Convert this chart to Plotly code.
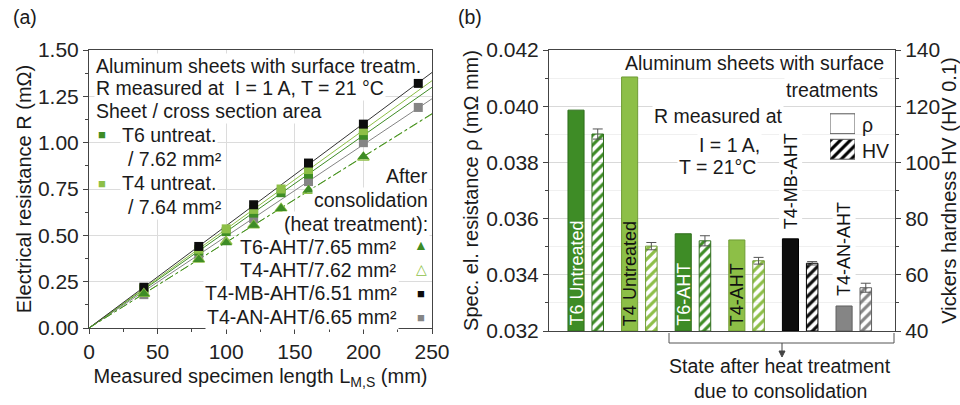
import plotly.graph_objects as go
import numpy as np

# ---------------- data (panel a) ----------------
len_untreated = [40, 80, 100, 120, 140, 160, 200]
r_t6_untreated = [0.21, 0.415, 0.52, 0.62, 0.73, 0.83, 1.04]
r_t4_untreated = [0.215, 0.425, 0.535, 0.64, 0.75, 0.855, 1.065]
len_aht = [40, 80, 100, 120, 140, 160, 200]
r_t6_aht = [0.185, 0.37, 0.46, 0.555, 0.645, 0.745, 0.925]
r_t4_aht = [0.185, 0.37, 0.465, 0.555, 0.645, 0.74, 0.92]
len_mb_an = [40, 80, 120, 160, 200, 240]
r_t4_mb_aht = [0.22, 0.44, 0.665, 0.89, 1.10, 1.32]
r_t4_an_aht = [0.18, 0.38, 0.59, 0.79, 1.00, 1.19]
fit_x = [0, 250]

# ---------------- data (panel b) ----------------
states = ["T6 Untreated", "T4 Untreated", "T6-AHT", "T4-AHT", "T4-MB-AHT", "T4-AN-AHT"]
rho = [0.03986, 0.04104, 0.03546, 0.03524, 0.03528, 0.03289]
hv = [110.1, 70.2, 72.1, 65.0, 64.1, 55.4]
hv_err = [1.8, 1.3, 1.8, 1.2, 0.6, 1.6]

DG = "#3e8c26"
LG = "#8dbf47"
BK = "#0d0d0d"
GR = "#858585"
FONT = "Liberation Sans, Arial, sans-serif"
TXT = 19.5

W, H = 960, 405
def px(x):
    return x / W
def py(y):
    return 1 - y / H

fig = go.Figure()

# ---- panel (a) traces ----
def fit(xs, ys):
    xs = np.array(xs, float); ys = np.array(ys, float)
    k = (xs * ys).sum() / (xs * xs).sum()
    return [k * v for v in fit_x]

series = [
    (len_mb_an, r_t4_an_aht, GR, "square", "solid", GR),
    (len_untreated, r_t6_untreated, DG, "square", "solid", DG),
    (len_untreated, r_t4_untreated, LG, "square", "solid", LG),
    (len_mb_an, r_t4_mb_aht, BK, "square", "solid", "#333333"),
    (len_aht, r_t4_aht, LG, "triangle-up-open", "dashdot", LG),
    (len_aht, r_t6_aht, DG, "triangle-up", "dashdot", DG),
]
for xs, ys, col, sym, dash, lcol in series:
    fig.add_trace(go.Scatter(x=fit_x, y=fit(xs, ys), mode="lines",
                             line=dict(color=lcol, width=1, dash=dash),
                             xaxis="x", yaxis="y", showlegend=False, hoverinfo="skip"))
for xs, ys, col, sym, dash, lcol in series:
    fig.add_trace(go.Scatter(x=xs, y=ys, mode="markers",
                             marker=dict(symbol=sym, size=10 if "triangle" in sym else 9,
                                         color=col, line=dict(width=1.5 if "open" in sym else 0, color=col)),
                             xaxis="x", yaxis="y", showlegend=False))

# ---- panel (b) traces ----
xpos = list(range(len(states)))
hv_off = 0.405
rho_col = [DG, LG, DG, LG, BK, GR]
rho_line = ["#2f6e1c", "#6f9c35", "#2f6e1c", "#6f9c35", "#000000", "#606060"]
hv_bg = [DG, LG, DG, LG, BK, GR]
hv_fg = ["white", "black", "white", "black", "white", "white"]

fig.add_trace(go.Bar(x=xpos, y=[r - 0.032 for r in rho], base=0.032, width=0.30,
                     marker=dict(color=rho_col, line=dict(color=rho_line, width=1)),
                     xaxis="x2", yaxis="y2", showlegend=False))
fig.add_trace(go.Bar(x=[p + hv_off for p in xpos], y=[h - 40 for h in hv], base=40, width=0.215,
                     marker=dict(color=hv_bg, line=dict(color=rho_line, width=1),
                                 pattern=dict(shape="/", fillmode="replace", bgcolor=hv_bg,
                                              fgcolor=hv_fg, size=7, solidity=0.45)),
                     error_y=dict(type="data", array=hv_err, color="#555555", thickness=1, width=5),
                     xaxis="x2", yaxis="y3", showlegend=False))

# legend swatches (rho / HV)
fig.add_trace(go.Bar(x=[1], y=[1], width=0.78, orientation="h",
                     marker=dict(color="white", line=dict(color="#555555", width=1)),
                     xaxis="x4", yaxis="y4", showlegend=False, hoverinfo="skip"))
fig.add_trace(go.Bar(x=[1], y=[0], width=0.78, orientation="h",
                     marker=dict(color="white", line=dict(color="#555555", width=1),
                                 pattern=dict(shape="/", fillmode="replace", bgcolor="white",
                                              fgcolor="black", size=7, solidity=0.45)),
                     xaxis="x4", yaxis="y4", showlegend=False, hoverinfo="skip"))

axis_common = dict(showline=True, linecolor="#444444", linewidth=1, mirror=True,
                   ticks="outside", ticklen=5, tickcolor="#444444", automargin=False,
                   tickfont=dict(size=21, color="#222222", family=FONT), zeroline=False)

fig.update_layout(
    width=W, height=H, margin=dict(l=0, r=0, t=0, b=0, pad=0),
    paper_bgcolor="white", plot_bgcolor="white",
    font=dict(family=FONT, size=TXT, color="#1a1a1a"),
    barmode="overlay",
    xaxis=dict(domain=[px(89), px(432)], range=[0, 250], dtick=50, anchor="y",
               showgrid=True, gridcolor="#dcdcdc", gridwidth=1,
               minor=dict(dtick=25, ticks="outside", ticklen=3, tickcolor="#444444"),
               title=dict(text="Measured specimen length L<sub>M,S</sub> (mm)", font=dict(size=20), standoff=6),
               **axis_common),
    yaxis=dict(domain=[py(328), py(50)], range=[0, 1.5], dtick=0.25, tickformat=".2f", anchor="x",
               showgrid=True, gridcolor="#dcdcdc", gridwidth=1,
               minor=dict(dtick=0.125, ticks="outside", ticklen=3, tickcolor="#444444"),
               title=dict(text="Electrical resistance R (mΩ)", font=dict(size=20), standoff=0),
               **axis_common),
    xaxis2=dict(domain=[px(549), px(895)], range=[-0.504, 5.95], anchor="y2", automargin=False,
                showline=True, linecolor="#444444", linewidth=1, mirror=True,
                showticklabels=False, ticks="", showgrid=False, zeroline=False),
    yaxis2=dict(domain=[py(331), py(50)], range=[0.032, 0.042], dtick=0.002, tickformat=".3f",
                anchor="x2", showgrid=True, gridcolor="#d9d9d9", automargin=False,
                minor=dict(dtick=0.001, ticks="outside", ticklen=3, tickcolor="#444444",
                           showgrid=True, gridcolor="#f0f0f0"),
                title=dict(text="Spec. el. resistance ρ (mΩ mm)", font=dict(size=20), standoff=2),
                showline=True, linecolor="#444444", linewidth=1, ticks="outside", ticklen=5,
                tickcolor="#444444", tickfont=dict(size=21, color="#222222", family=FONT), zeroline=False),
    yaxis3=dict(range=[40, 140], dtick=20, overlaying="y2", side="right", anchor="x2",
                showgrid=False, showline=True, linecolor="#444444", linewidth=1, automargin=False,
                ticks="outside", ticklen=5, tickcolor="#444444",
                minor=dict(dtick=10, ticks="outside", ticklen=3, tickcolor="#444444"),
                tickfont=dict(size=21, color="#222222", family=FONT), zeroline=False,
                title=dict(text="Vickers hardness HV (HV 0.1)", font=dict(size=20), standoff=2)),
    xaxis4=dict(domain=[px(830), px(855)], range=[0, 1], visible=False, anchor="y4",
                fixedrange=True, automargin=False),
    yaxis4=dict(domain=[py(162), py(111)], range=[-0.5, 1.5], visible=False, anchor="x4",
                fixedrange=True, automargin=False),
)

ann = []
def T(text, x, y, xa="left", size=TXT, color="#1a1a1a", bg=None, **kw):
    d = dict(text=text, x=px(x), y=py(y), xref="paper", yref="paper", xanchor=xa, yanchor="middle",
             showarrow=False, font=dict(size=size, color=color, family=FONT))
    if bg:
        d["bgcolor"] = bg
    d.update(kw)
    ann.append(d)

# panel labels
T("(a)", 11, 17)
T("(b)", 456, 17)

# panel (a) legend text
T("Aluminum sheets with surface treatm.", 94, 66, bg="white")
T("R measured at \u00a0I = 1 A, T = 21 °C", 94, 88, bg="white")
T("Sheet / cross section area", 94, 111, bg="white")
T("■", 102, 135, xa="center", size=13, color=DG)
T("T6 untreat.", 120, 135, bg="white")
T("/ 7.62 mm²", 126, 159, bg="white")
T("■", 102, 183, xa="center", size=13, color=LG)
T("T4 untreat.", 120, 183, bg="white")
T("/ 7.64 mm²", 126, 207, bg="white")
T("After", 430, 176, xa="right", bg="white")
T("consolidation", 430, 200, xa="right", bg="white")
T("(heat treatment):", 430, 224, xa="right", bg="white")
T("T6-AHT/7.65 mm²", 399, 247, xa="right", bg="white")
T("T4-AHT/7.62 mm²", 399, 270, xa="right", bg="white")
T("T4-MB-AHT/6.51 mm²", 399, 293, xa="right", bg="white")
T("T4-AN-AHT/6.65 mm²", 399, 317, xa="right", bg="white")
T("▲", 421, 245, xa="center", size=14, color=DG)
T("△", 421, 269, xa="center", size=14, color=LG)
T("■", 421, 293, xa="center", size=13, color=BK)
T("■", 421, 317, xa="center", size=13, color=GR)

# panel (b) texts
T("Aluminum sheets with surface", 886, 63, xa="right", bg="white")
T("treatments", 880, 90, xa="right", bg="white")
T("R measured at", 718, 116, xa="center", bg="white")
T("I = 1 A,", 729, 145, xa="center", bg="white")
T("T = 21°C", 717, 167, xa="center", bg="white")
T("ρ", 860, 125)
T("HV", 860, 151)
T("State after heat treatment", 780, 366, xa="center")
T("due to consolidation", 780, 391, xa="center")

# bar labels (vertical)
label_col = ["#ffffff", "#111111", "#ffffff", "#111111", "#111111", "#111111"]
for i, s in enumerate(states):
    inside = i < 4
    d = dict(text=s, x=xpos[i], y=0.032 if inside else rho[i], xref="x2", yref="y2",
             xanchor="center", yanchor="bottom", textangle=-90, showarrow=False,
             yshift=3 if inside else 8,
             font=dict(size=18, color=label_col[i], family=FONT))
    if not inside:
        d["bgcolor"] = "white"
    ann.append(d)

fig.update_layout(annotations=ann)

# bracket under panel (b) with arrow
fig.add_shape(type="path",
              path=f"M {px(669)},{py(333)} L {px(669)},{py(343)} L {px(894)},{py(343)} L {px(894)},{py(333)}",
              xref="paper", yref="paper", line=dict(color="#555555", width=1))
fig.add_shape(type="line", x0=px(782), x1=px(782), y0=py(343), y1=py(352),
              xref="paper", yref="paper", line=dict(color="#444444", width=1))
fig.add_shape(type="path",
              path=f"M {px(779)},{py(351)} L {px(785)},{py(351)} L {px(782)},{py(357)} Z",
              xref="paper", yref="paper", fillcolor="#444444", line=dict(color="#444444", width=1))

fig.write_html("out.html", config={"displayModeBar": False},
               post_script="document.body.style.margin='0';document.body.style.overflow='hidden';")
